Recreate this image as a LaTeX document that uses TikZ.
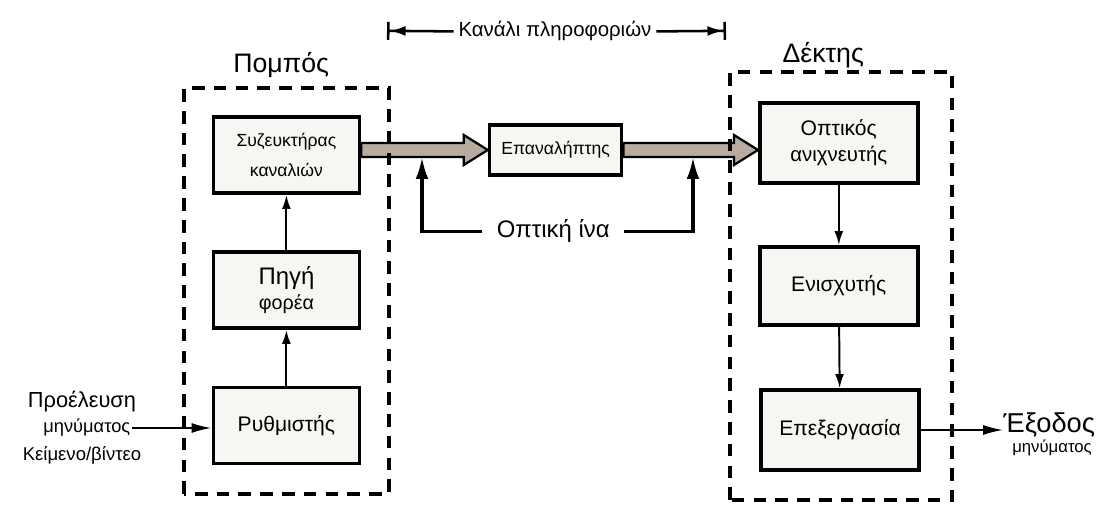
\documentclass[tikz,border=0pt]{standalone}
\usepackage{fontspec}
\setmainfont{Liberation Sans}
\usetikzlibrary{arrows.meta,calc}
\definecolor{fibrefill}{RGB}{184,172,158}
\definecolor{boxfill}{RGB}{248,246,243}
\tikzset{
  block/.style={draw, line width=2.6pt, fill=boxfill, minimum width=3.65cm, minimum height=1.9cm, align=center, inner sep=2pt},
  group/.style={draw, line width=2.3pt, dash pattern=on 9pt off 6.5pt},
  link/.style={line width=1.4pt, -{Latex[length=0.35cm,width=0.22cm]}},
  io/.style={line width=1.4pt, -{Latex[length=0.5cm,width=0.25cm]}},
  fibreline/.style={line width=2.3pt, -{Latex[length=0.55cm,width=0.32cm]}},
  chan/.style={line width=1.8pt, -{Latex[length=0.4cm,width=0.25cm]Bar[width=0.45cm,line width=1.8pt]}},
  fibre/.style={draw, line width=1.6pt, fill=fibrefill, line join=miter},
}
\newcommand{\fs}[2]{\fontsize{#1}{#2}\selectfont}
\newcommand{\fibrearrow}[2]{%
  \draw[fibre] let \p1=(#1), \p2=(#2) in
    (\x1,\y1+0.175cm) -- (\x2-0.6cm,\y1+0.175cm) -- (\x2-0.6cm,\y1+0.375cm) -- (\x2,\y1)
    -- (\x2-0.6cm,\y1-0.375cm) -- (\x2-0.6cm,\y1-0.175cm) -- (\x1,\y1-0.175cm) -- cycle;}
\begin{document}
\begin{tikzpicture}
    \useasboundingbox[fill=white] (0,0) rectangle (27.625,12.7);
    \node[block, font=\fs{12.5}{21}] (syz) at (7.16,8.825) {Συζευκτήρας\\καναλιών};
    \node[block, font=\fs{17}{17.7}] (pigi) at (7.16,5.45) {Πηγή\\\fs{14}{17.7}φορέα};
    \node[block, font=\fs{15}{18}] (ryth) at (7.16,2.06) {Ρυθμιστής};
    \node[block, font=\fs{12.5}{15}, minimum width=3.3cm, minimum height=1.25cm] (rep) at (13.89,8.95) {Επαναλήπτης};
    \node[block, font=\fs{15}{18.4}, minimum width=3.95cm, minimum height=2cm] (opt) at (20.97,9.125) {Οπτικός\\\fs{14.5}{18.4}ανιχνευτής};
    \node[block, font=\fs{15}{18}, minimum width=3.95cm, minimum height=1.95cm] (enis) at (20.97,5.55) {Ενισχυτής};
    \node[block, font=\fs{15}{18}, minimum width=3.95cm, minimum height=2cm] (epex) at (21.0,1.95) {Επεξεργασία};
    \node[anchor=base, font=\fs{19}{22}] (tx) at (7.03,10.875) {Πομπός};
    \node[anchor=base, font=\fs{19}{22}] (rx) at (20.58,11.125) {Δέκτης};
    \node[anchor=base, font=\fs{15.5}{16}] (src1) at (2.05,2.5) {Προέλευση};
    \node[anchor=base, font=\fs{13}{16}, inner xsep=1pt] (src2) at (2.17,1.875) {μηνύματος};
    \node[anchor=base, font=\fs{13.2}{16}] (src3) at (2.05,1.2) {Κείμενο/βίντεο};
    \node[anchor=base west, font=\fs{19.4}{20}, inner xsep=0pt, inner ysep=0pt] (out) at (25.08,1.875) {Έξοδος};
    \node[anchor=base west, font=\fs{11.9}{12}, inner xsep=0pt, inner ysep=0pt] (out2) at (25.3,1.4) {μηνύματος};
    \node[anchor=base, font=\fs{14.5}{16}] (chan) at (13.875,11.775) {Κανάλι πληροφοριών};
    \node[anchor=base, font=\fs{17}{18}, inner xsep=10pt] (fib) at (13.83,6.75) {Οπτική ίνα};
    \coordinate (chl) at (9.675,11.93);
    \coordinate (chr) at (18.15,11.93);
    \coordinate (fl) at (10.55,8.775);
    \coordinate (fr) at (17.325,8.775);
    \fibrearrow{syz.east |- rep.west}{rep.west}
    \fibrearrow{rep.east}{opt.west |- rep.east}
    \draw[link] (ryth) -- (pigi);
    \draw[link] (pigi) -- (syz);
    \draw[link] (opt) -- (enis);
    \draw[link] (enis) -- (epex);
    \draw[io] (src2.east) -- (ryth.west |- src2.east);
    \draw[io] (epex.east) -- (epex.east -| out.west);
    \draw[fibreline] (fib.west) -| (fl);
    \draw[fibreline] (fib.east) -| (fr);
    \draw[chan] (chan.west) -- (chl);
    \draw[chan] (chan.east) -- (chr);
    \draw[group] (4.6,0.35) rectangle (9.725,10.5);
    \draw[group] (18.25,0.2) rectangle (23.8,10.9);
\end{tikzpicture}
\end{document}
